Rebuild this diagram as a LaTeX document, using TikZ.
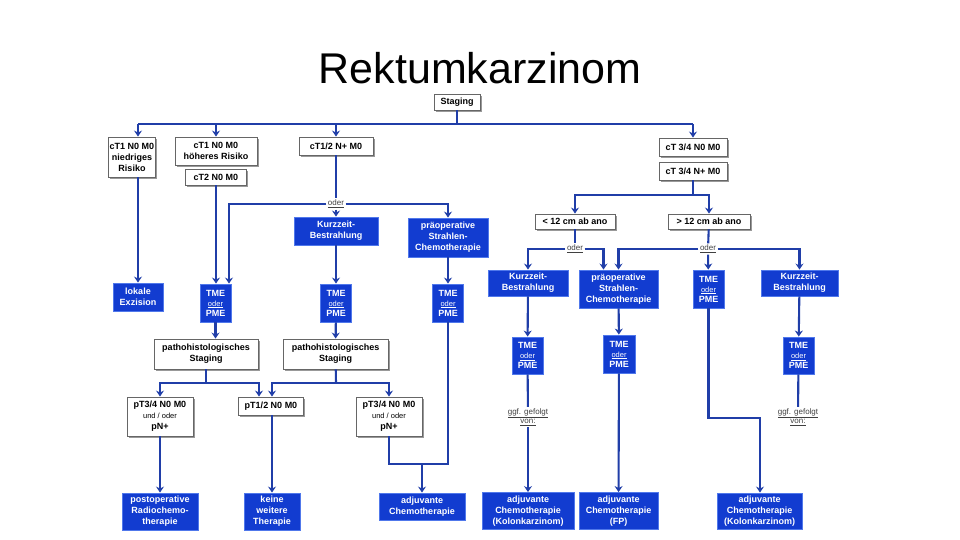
\documentclass[tikz,border=0pt]{standalone}
\usepackage{fontspec}
\setmainfont{Liberation Sans}
\usetikzlibrary{arrows.meta,shadows}
\definecolor{boxblue}{RGB}{18,60,208}
\definecolor{boxrim}{RGB}{80,120,235}
\definecolor{linkblue}{RGB}{32,62,168}
\newcommand{\smallod}[1]{{\fontsize{7.5}{8}\selectfont\mdseries\underline{#1}}}
\newcommand{\tmepme}{TME\\[-1pt]\smallod{oder}\\[-1pt]PME}

\begin{document}
\begin{tikzpicture}[x=1pt, y=-1pt,
  wbox/.style={draw=black!60, line width=0.9pt, fill=white, align=center, inner sep=1pt,
    font=\fontsize{9}{11}\selectfont\bfseries,
    drop shadow={shadow xshift=1.6pt, shadow yshift=-1.6pt, fill=black!40, opacity=1}},
  bbox/.style={draw=boxrim, line width=0.9pt, fill=boxblue, text=white, align=center, inner sep=1pt,
    font=\fontsize{9}{11}\selectfont\bfseries},
  sz/.style 2 args={minimum width=#1pt, minimum height=#2pt},
  link/.style={linkblue, line width=2.1pt},
  arr/.style={link, -{Stealth[length=6pt, width=8pt]}},
  lbl/.style={font=\fontsize{8}{9}\selectfont, text=black!75, inner sep=1.5pt, align=center}]
  \useasboundingbox (0,0) rectangle (960,540);
  \node[font=\fontsize{43}{50}\selectfont] (title) at (480,68) {Rektumkarzinom};
  % clinical staging
  \node[wbox, sz={46}{16}] (st) at (457,102) {Staging};
  \node[wbox, sz={47}{40}] (ra) at (132,157) {cT1 N0 M0\\niedriges\\Risiko};
  \node[wbox, sz={82}{28}] (rb) at (216,151) {cT1 N0 M0\\höheres Risiko};
  \node[wbox, sz={61}{16}] (rb2) at (216,177) {cT2 N0 M0};
  \node[wbox, sz={74}{18}] (rc) at (336,146) {cT1/2 N+ M0};
  \node[wbox, sz={68}{18}] (rd) at (693,147) {cT 3/4 N0 M0};
  \node[wbox, sz={68}{18}] (rd2) at (693,171) {cT 3/4 N+ M0};
  \node[wbox, sz={80}{15}] (lo) at (575,221.5) {< 12 cm ab ano};
  \node[wbox, sz={82}{15}] (hi) at (709,221.5) {> 12 cm ab ano};
  % left therapy branch
  \node[bbox, sz={50}{28}] (exz) at (138,297) {lokale\\Exzision};
  \node[bbox, sz={31}{38}] (t1) at (215.5,303) {\tmepme};
  \node[bbox, sz={84}{28}] (k1) at (336,231) {Kurzzeit-\\Bestrahlung};
  \node[bbox, sz={80}{39}] (p1) at (448,237.5) {präoperative\\Strahlen-\\Chemotherapie};
  \node[bbox, sz={31}{38}] (t2) at (336,303) {\tmepme};
  \node[bbox, sz={31}{38}] (t3) at (448,303) {\tmepme};
  \node[wbox, sz={104}{30}] (ps1) at (206,354) {pathohistologisches\\Staging};
  \node[wbox, sz={105}{30}] (ps2) at (335.5,354) {pathohistologisches\\Staging};
  \node[wbox, sz={66}{39}] (q1) at (160,416.5) {pT3/4 N0 M0\\{\fontsize{7.5}{9}\selectfont\mdseries und / oder}\\pN+};
  \node[wbox, sz={65}{18}] (q2) at (271,406) {pT1/2 N0 M0};
  \node[wbox, sz={66}{39}] (q3) at (389,416.5) {pT3/4 N0 M0\\{\fontsize{7.5}{9}\selectfont\mdseries und / oder}\\pN+};
  \node[bbox, sz={76}{37}] (post) at (160,511.5) {postoperative\\Radiochemo-\\therapie};
  \node[bbox, sz={56}{37}] (keine) at (272,511.5) {keine\\weitere\\Therapie};
  \node[bbox, sz={86}{27}] (acl) at (422,506.5) {adjuvante\\Chemotherapie};
  % right therapy branch
  \node[bbox, sz={80}{26}] (k2) at (528,283) {Kurzzeit-\\Bestrahlung};
  \node[bbox, sz={79}{38}] (p2) at (618.5,289) {präoperative\\Strahlen-\\Chemotherapie};
  \node[bbox, sz={31}{38}] (t5) at (708.5,289) {\tmepme};
  \node[bbox, sz={77}{26}] (k3) at (799.5,283) {Kurzzeit-\\Bestrahlung};
  \node[bbox, sz={31}{37}] (t6) at (527.5,355.5) {\tmepme};
  \node[bbox, sz={32}{38}] (t7) at (619,354) {\tmepme};
  \node[bbox, sz={31}{37}] (t8) at (798.5,355.5) {\tmepme};
  \node[bbox, sz={92}{37}] (ack1) at (528,511) {adjuvante\\Chemotherapie\\(Kolonkarzinom)};
  \node[bbox, sz={79}{37}] (acfp) at (618.5,511) {adjuvante\\Chemotherapie\\(FP)};
  \node[bbox, sz={85}{36}] (ack2) at (759.5,511) {adjuvante\\Chemotherapie\\(Kolonkarzinom)};
  % labels on the lines
  \node[lbl] (o1) at (336,204) {\underline{oder}};
  \node[lbl] (o2) at (575,249) {\underline{oder}};
  \node[lbl] (o3) at (708,249) {\underline{oder}};
  \node[lbl] (g1) at (528,417) {\underline{ggf. gefolgt}\\\underline{von:}};
  \node[lbl] (g2) at (798,417) {\underline{ggf. gefolgt}\\\underline{von:}};
  \coordinate (j0) at (457,124);
  \coordinate (c1) at (229,204);
  \coordinate (j3) at (206,383);
  \coordinate (j4) at (336,383);
  \coordinate (j5) at (448,464);
  \coordinate (j7) at (693,195);
  \coordinate (j8) at (760,418);
  % connectors
  \draw[link] (st) -- (j0);
  \draw[link] (exz.north |- j0) -- (rd.north |- j0);
  \foreach \n in {rb,rc,rd} \draw[arr] (\n.north |- j0) -- (\n.north);
  \draw[arr] (exz.north |- j0) -- (exz.north |- ra.north);
  \draw[arr] (exz.north |- ra.south) -- (exz);
  \draw[arr] (rb2) -- (t1.north -| rb2);
  \draw[link] (rc) -- (o1);
  \draw[arr] (o1) -- (k1);
  \draw[arr] (o1.west) -- (c1) -- (c1 |- t1.north);
  \draw[arr] (o1.east) -| (p1.north);
  \draw[arr] (k1) -- (t2);
  \draw[arr] (p1) -- (t3);
  \draw[arr] (t1.south) -- (t1.south |- ps1.north);
  \draw[arr] (t2) -- (ps2);
  \draw[link] (ps1) -- (j3);
  \draw[arr] (j3) -| (q1.north);
  \draw[arr] (j3) -| ([xshift=-12pt]q2.north);
  \draw[link] (ps2) -- (j4);
  \draw[arr] (j4) -| ([xshift=1pt]q2.north);
  \draw[arr] (j4) -| (q3.north);
  \draw[arr] (q1) -- (post);
  \draw[arr] (q2.south -| keine.north) -- (keine);
  \draw[link] (t3) -- (j5) -- (q3.south |- j5) -- (q3.south);
  \draw[arr] (acl.north |- j5) -- (acl);
  \draw[link] (rd2) -- (j7);
  \draw[arr] (j7) -| (lo.north);
  \draw[arr] (j7) -| (hi.north);
  \draw[link] (lo) -- (o2);
  \draw[link] (hi) -- (o3);
  \draw[arr] (o2.west) -| (k2.north);
  \draw[arr] (o2.east) -| ([xshift=-15pt]p2.north);
  \draw[arr] (o3.west) -| (p2.north);
  \draw[arr] (o3) -- (t5);
  \draw[arr] (o3.east) -| (k3.north);
  \draw[arr] (k2) -- (t6);
  \draw[arr] (p2) -- (t7);
  \draw[arr] (k3) -- (t8);
  \draw[link] (t6) -- (g1);
  \draw[arr] (g1) -- (ack1);
  \draw[arr] (t7) -- (acfp);
  \draw[arr] (t5.south) |- (j8) -- (ack2.north -| j8);
  \draw[link] (t8) -- (g2);
\end{tikzpicture}
\end{document}
